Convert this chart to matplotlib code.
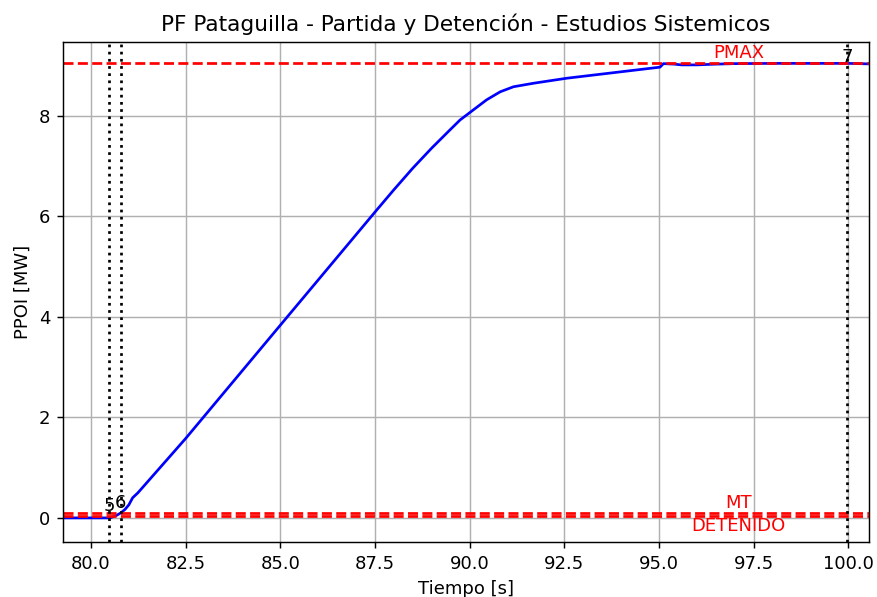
import matplotlib
matplotlib.use("Agg")
import matplotlib.pyplot as plt

# Data
tiempo = [79.26, 80.0, 80.5, 80.65, 80.79, 80.9, 81.0, 81.1, 81.24, 82.5, 85.04, 87.55,
          88.0, 88.5, 89.0, 89.48, 89.75, 90.1, 90.45, 90.81, 91.16, 91.69, 92.57, 93.8,
          95.03, 95.12, 95.4, 95.6, 96.0, 96.5, 97.0, 98.0, 99.0, 100.0, 100.55]
ppoi = [0.0, 0.0, 0.0, 0.04, 0.1, 0.17, 0.26, 0.4, 0.5, 1.58, 3.87, 6.13,
        6.53, 6.96, 7.36, 7.72, 7.92, 8.12, 8.32, 8.48, 8.58, 8.65, 8.75, 8.86,
        8.97, 9.04, 9.03, 9.015, 9.015, 9.03, 9.04, 9.045, 9.045, 9.045, 9.035]

hlines = {"PMAX": 9.055, "MT": 0.095, "DETENIDO": 0.03}
eventos_t = [80.48, 80.79, 99.97]
eventos_lbl = ["5", "6", "7"]
eventos_y = [0.05, 0.12, 9.0]

S = 1.3
fig = plt.figure(figsize=(8.77, 5.97), dpi=100)
ax = fig.add_axes([0.0718, 0.0921, 0.9191, 0.8375])

ax.plot(tiempo, ppoi, color="blue", linewidth=1.5 * S)

for name, val in hlines.items():
    ax.axhline(val, color="red", linestyle="--", linewidth=1.5 * S)
ax.text(97.1, hlines["PMAX"] + 0.02, "PMAX", color="red", ha="center", va="bottom", fontsize=10 * S)
ax.text(97.1, hlines["MT"] + 0.02, "MT", color="red", ha="center", va="bottom", fontsize=10 * S)
ax.text(97.1, hlines["DETENIDO"] - 0.01, "DETENIDO", color="red", ha="center", va="top", fontsize=10 * S)

for t, lbl, y in zip(eventos_t, eventos_lbl, eventos_y):
    ax.axvline(t, color="black", linestyle=":", linewidth=1.5 * S)
    ax.text(t, y, lbl, color="black", ha="center", va="bottom", fontsize=10 * S)

ax.set_xlim(79.26, 100.55)
ax.set_ylim(-0.48, 9.47)
ax.set_xticks([80.0, 82.5, 85.0, 87.5, 90.0, 92.5, 95.0, 97.5, 100.0])
ax.set_yticks([0, 2, 4, 6, 8])
ax.tick_params(labelsize=10 * S, width=0.8 * S, length=3.5 * S, pad=3.5 * S)
for sp in ax.spines.values():
    sp.set_linewidth(0.8 * S)
ax.grid(True, linewidth=0.8 * S)
ax.set_title("PF Pataguilla - Partida y Detención - Estudios Sistemicos", fontsize=12 * S, pad=6 * S)
ax.set_xlabel("Tiempo [s]", fontsize=10 * S, labelpad=4 * S)
ax.set_ylabel("PPOI [MW]", fontsize=10 * S, labelpad=4 * S)

fig.savefig("out.png", dpi=100)
